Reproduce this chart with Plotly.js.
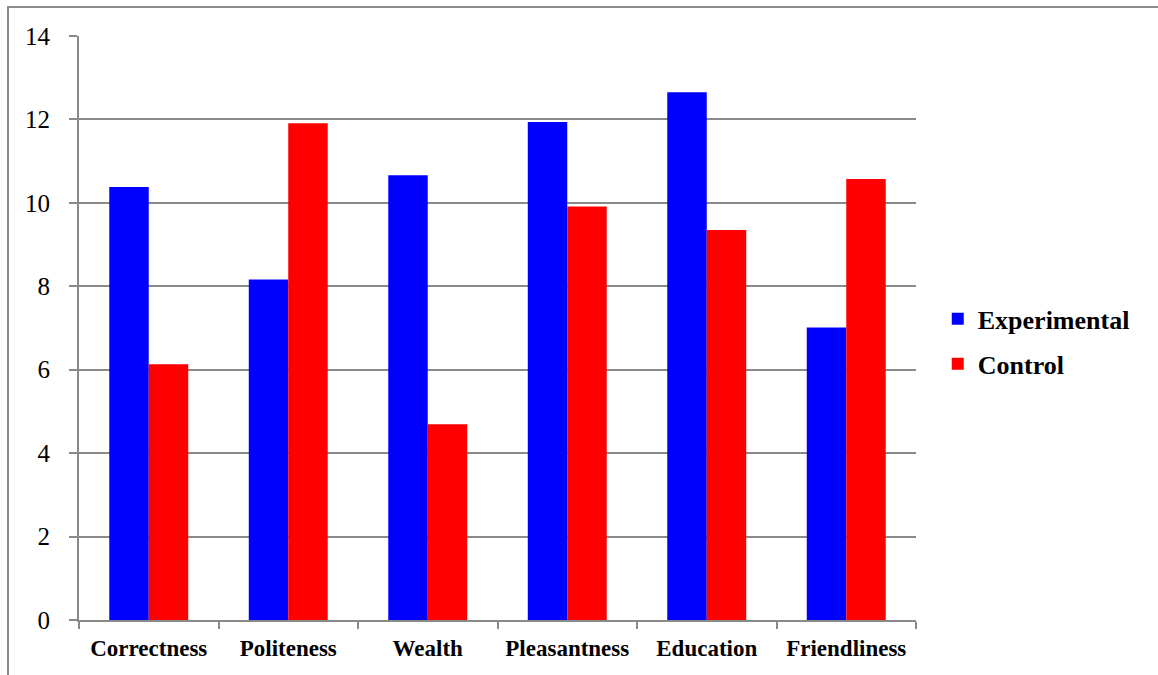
<!DOCTYPE html>
<html>
<head>
<meta charset="utf-8">
<script src="https://cdn.plot.ly/plotly-3.0.1.min.js"></script>
<style>
  html, body { margin: 0; padding: 0; background: #fff; }
  #chart { position: absolute; left: 0; top: 0; width: 1158px; height: 675px; }
  #frame { position: absolute; left: 7px; top: 6px; width: 1160px; height: 680px;
           border-top: 2px solid #8c8c8c; border-left: 2px solid #8c8c8c; pointer-events: none; }
</style>
</head>
<body>
<div id="chart"></div>
<div id="frame"></div>
<script>
const categories = ["Correctness", "Politeness", "Wealth", "Pleasantness", "Education", "Friendliness"];
const experimental = [10.38, 8.16, 10.66, 11.94, 12.65, 7.01];
const control = [6.13, 11.91, 4.69, 9.91, 9.35, 10.57];
const yTicks = [0, 2, 4, 6, 8, 10, 12, 14];

const serif = "Liberation Serif";
const gridCol = "#8a8a8a";

const traces = [
  { type: "bar", name: "<b>Experimental</b>", x: categories, y: experimental, legendgroup: "a",
    marker: { color: "#0000ff" }, hoverinfo: "y" },
  { type: "bar", name: "<b>Control</b>", x: categories, y: control, legendgroup: "b",
    marker: { color: "#ff0000" }, hoverinfo: "y" }
];

const layout = {
  width: 1158, height: 675,
  margin: { l: 79, r: 242, t: 36, b: 55, pad: 0 },
  paper_bgcolor: "#ffffff", plot_bgcolor: "#ffffff",
  barmode: "group", bargap: 0.434, bargroupgap: 0,
  font: { family: serif, color: "#000000" },
  showlegend: true,
  legend: {
    x: 1.026, xanchor: "left", y: 0.477, yanchor: "middle",
    font: { family: serif, size: 26, color: "#000" },
    tracegroupgap: 8, itemwidth: 30, bgcolor: "rgba(0,0,0,0)"
  },
  xaxis: {
    type: "category",
    tickfont: { family: serif, size: 23, color: "#000", weight: "bold" },
    tickson: "boundaries", ticks: "outside", ticklen: 7, tickwidth: 2, tickcolor: gridCol,
    showline: true, linecolor: gridCol, linewidth: 2,
    showgrid: false, zeroline: false,
    ticklabelstandoff: 6
  },
  yaxis: {
    range: [0, 14], tickvals: yTicks, ticktext: yTicks.map(String),
    tickfont: { family: serif, size: 25, color: "#000" },
    ticks: "outside", ticklen: 8, tickwidth: 2, tickcolor: gridCol,
    showline: true, linecolor: gridCol, linewidth: 2,
    showgrid: true, gridcolor: gridCol, gridwidth: 2,
    zeroline: false, ticklabelstandoff: 14
  }
};

Plotly.newPlot("chart", traces, layout, { displayModeBar: false, staticPlot: true });
</script>
</body>
</html>
